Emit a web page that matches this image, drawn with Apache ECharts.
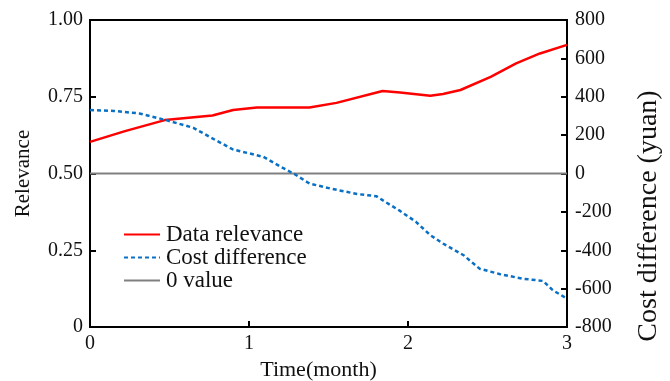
<!DOCTYPE html>
<html>
<head>
<meta charset="utf-8">
<script src="https://cdn.jsdelivr.net/npm/echarts@6/dist/echarts.min.js"></script>
<style>
html, body { margin: 0; padding: 0; background: #fff; }
#main { width: 670px; height: 381px; }
</style>
</head>
<body>
<div id="main"></div>
<script>
// data
var relTime = [0, 0.22, 0.47, 0.77, 0.90, 1.05, 1.38, 1.55, 1.84, 1.95, 2.14, 2.22, 2.33, 2.52, 2.68, 2.83, 3.0];
var relValue = [0.603, 0.638, 0.674, 0.689, 0.707, 0.715, 0.715, 0.730, 0.769, 0.764, 0.753, 0.759, 0.772, 0.815, 0.859, 0.891, 0.919];

var costTime = [0, 0.15, 0.31, 0.48, 0.65, 0.79, 0.90, 1.09, 1.20, 1.29, 1.38, 1.51, 1.68, 1.80, 1.84, 1.95, 2.05, 2.14, 2.22, 2.35, 2.45, 2.58, 2.72, 2.85, 2.91, 3.0];
var costValue = [331, 326, 313, 278, 238, 174, 125, 87, 35, -5, -52, -78, -107, -118, -139, -195, -252, -321, -365, -426, -496, -525, -548, -560, -608, -652];

var zeroTime = [0, 3];
var zeroValue = [0, 0];

var names = ['Data relevance', 'Cost difference', '0 value'];

function pairs(xs, ys) {
    var out = [];
    for (var i = 0; i < xs.length; i++) out.push([xs[i], ys[i]]);
    return out;
}

var chart = echarts.init(document.getElementById('main'));
var serif = 'Liberation Serif';
var tickFont = { color: '#111', fontFamily: serif, fontSize: 20 };

var option = {
    animation: false,
    backgroundColor: '#fff',
    grid: {
        left: 90, right: 103, top: 20, bottom: 54,
        outerBoundsMode: 'none',
        containLabel: false,
        show: true, borderColor: '#000', borderWidth: 2
    },
    legend: {
        orient: 'vertical',
        left: 118,
        top: 218,
        itemWidth: 36,
        itemHeight: 14,
        itemGap: 0,
        itemStyle: { opacity: 0 },
        textStyle: { fontFamily: serif, fontSize: 23, lineHeight: 23, color: '#111', padding: [0, 0, 0, 1] },
        data: names
    },
    xAxis: {
        type: 'value',
        min: 0, max: 3, interval: 1,
        name: 'Time(month)',
        nameLocation: 'middle',
        nameGap: 32,
        nameTextStyle: { fontFamily: serif, fontSize: 22, color: '#111', padding: [0, 20, 0, 0] },
        axisLine: { lineStyle: { color: '#000', width: 2 } },
        axisTick: { inside: true, length: 6, lineStyle: { color: '#000', width: 2 } },
        axisLabel: Object.assign({ margin: 7 }, tickFont),
        splitLine: { show: false }
    },
    yAxis: [{
        type: 'value',
        min: 0, max: 1, interval: 0.25,
        name: 'Relevance',
        nameLocation: 'middle',
        nameGap: 56,
        nameRotate: 90,
        nameTextStyle: { fontFamily: serif, fontSize: 21, color: '#111' },
        axisLine: { show: true, lineStyle: { color: '#000', width: 2 } },
        axisTick: { show: true, inside: true, length: 6, lineStyle: { color: '#000', width: 2 } },
        axisLabel: Object.assign({
            margin: 7,
            formatter: function (v) { return v === 0 ? '0' : v.toFixed(2); }
        }, tickFont),
        splitLine: { show: false }
    }, {
        type: 'value',
        position: 'right',
        min: -800, max: 800, interval: 200,
        axisLine: { show: true, lineStyle: { color: '#000', width: 2 } },
        axisTick: { show: true, inside: true, length: 6, lineStyle: { color: '#000', width: 2 } },
        axisLabel: Object.assign({ margin: 8 }, tickFont),
        splitLine: { show: false }
    }],
    graphic: [{
        type: 'text',
        x: 649, y: 216,
        rotation: Math.PI / 2,
        style: {
            text: 'Cost difference (yuan)',
            fontFamily: serif,
            fontSize: 28,
            fill: '#111',
            align: 'center',
            verticalAlign: 'middle'
        }
    }],
    series: [{
        name: names[0],
        type: 'line',
        yAxisIndex: 0,
        symbol: 'none',
        color: '#ff0000',
        lineStyle: { color: '#ff0000', width: 2.5 },
        data: pairs(relTime, relValue),
        z: 3
    }, {
        name: names[1],
        type: 'line',
        yAxisIndex: 1,
        symbol: 'none',
        color: '#0a70c4',
        lineStyle: { color: '#0a70c4', width: 2.5, type: [4, 3] },
        data: pairs(costTime, costValue),
        z: 3
    }, {
        name: names[2],
        type: 'line',
        yAxisIndex: 1,
        symbol: 'none',
        color: '#808080',
        lineStyle: { color: '#808080', width: 2 },
        data: pairs(zeroTime, zeroValue),
        z: 2
    }]
};
chart.setOption(option);
</script>
</body>
</html>
